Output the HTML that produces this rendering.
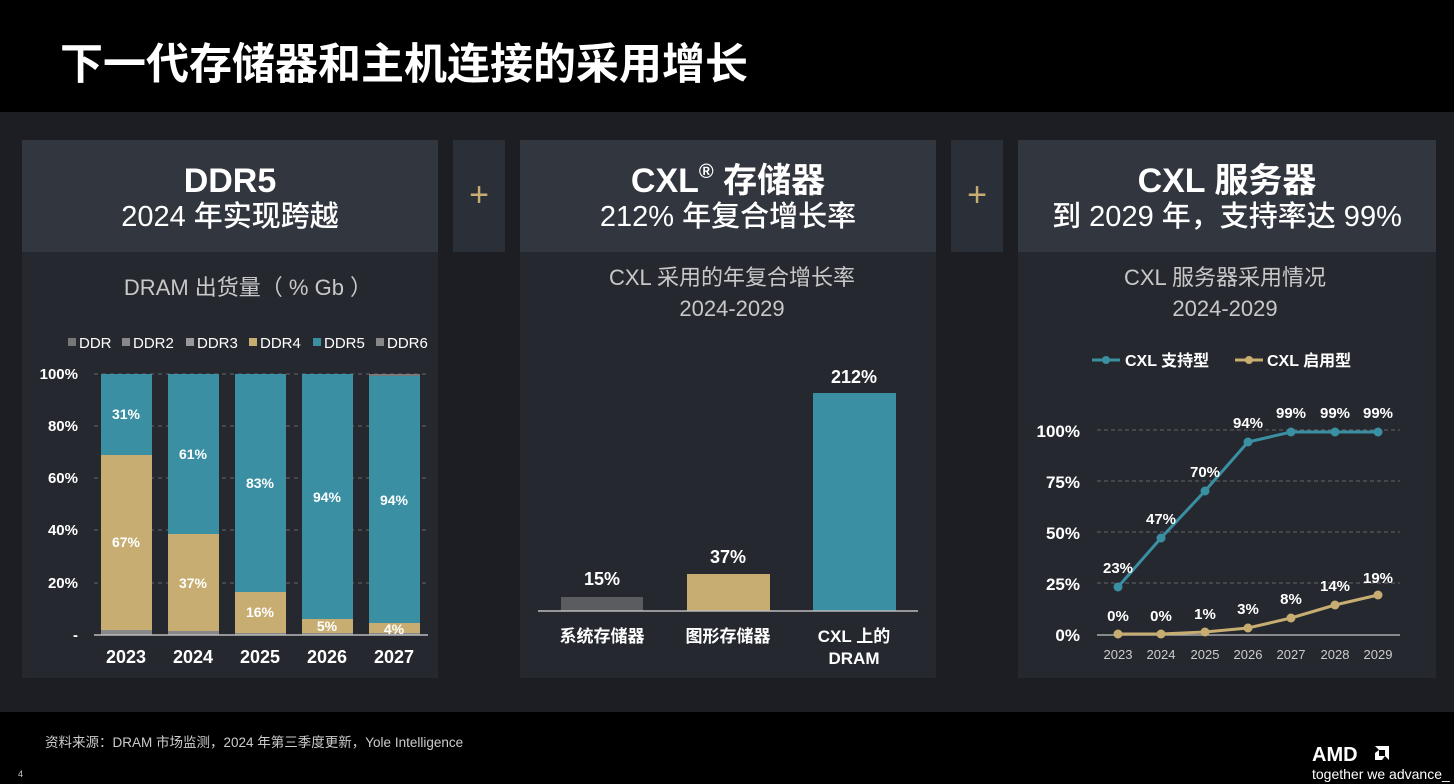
<!DOCTYPE html>
<html><head><meta charset="utf-8"><style>
body{margin:0;width:1454px;height:784px;background:#000;overflow:hidden;font-family:"Liberation Sans","Noto Sans CJK SC",sans-serif;color:#fff;position:relative}
.a{position:absolute}
.band{left:0;top:112px;width:1454px;height:600px;background:#1c1e23}
.hd{background:#31363f;top:140px;height:112px;text-align:center}
.bd{background:#25282e;top:252px;height:426px}
.h1{font-weight:bold;font-size:34px;line-height:38px;margin-top:22px;height:38px}
.h1 sup{font-size:20px;line-height:0;vertical-align:14px}
.h2{font-size:29px;line-height:34px;font-weight:500}
.plus{background:#2b2f37;top:140px;height:112px;width:52px;color:#c8ad72;font-size:34px;text-align:center;line-height:110px}
</style></head><body>
<div class="a" style="left:60px;top:37px;font-size:43px;font-weight:bold;line-height:56px">下一代存储器和主机连接的采用增长</div>
<div class="a band"></div>
<div class="a hd" style="left:22px;width:416px"><div class="h1">DDR5</div><div class="h2">2024 年实现跨越</div></div>
<div class="a plus" style="left:453px">+</div>
<div class="a hd" style="left:520px;width:416px"><div class="h1">CXL<sup>®</sup> 存储器</div><div class="h2">212% 年复合增长率</div></div>
<div class="a plus" style="left:951px">+</div>
<div class="a hd" style="left:1018px;width:418px"><div class="h1">CXL 服务器</div><div class="h2">到 2029 年，支持率达 99%</div></div>
<div class="a bd" style="left:22px;width:416px"></div>
<div class="a bd" style="left:520px;width:416px"></div>
<div class="a bd" style="left:1018px;width:418px"></div>
<svg class="a" style="left:0;top:0" width="1454" height="784" font-family="Liberation Sans, Noto Sans CJK SC, sans-serif">
<g fill="#c8c8c8" font-size="22" text-anchor="middle">
<text x="248" y="295">DRAM 出货量（ % Gb ）</text>
<text x="732" y="285">CXL 采用的年复合增长率</text><text x="732" y="316">2024-2029</text>
<text x="1225" y="285">CXL 服务器采用情况</text><text x="1225" y="316">2024-2029</text>
</g>
<g font-size="15" fill="#fff">
<rect x="68" y="338" width="8" height="8" fill="#777"/><text x="79" y="348">DDR</text>
<rect x="122" y="338" width="8" height="8" fill="#888"/><text x="133" y="348">DDR2</text>
<rect x="186" y="338" width="8" height="8" fill="#999"/><text x="197" y="348">DDR3</text>
<rect x="249" y="338" width="8" height="8" fill="#c8ad72"/><text x="260" y="348">DDR4</text>
<rect x="313" y="338" width="8" height="8" fill="#3a8fa3"/><text x="324" y="348">DDR5</text>
<rect x="376" y="338" width="8" height="8" fill="#888"/><text x="387" y="348">DDR6</text>
</g>
<g stroke="#666" stroke-dasharray="4 4"><line x1="94" x2="428" y1="374" y2="374"/><line x1="94" x2="428" y1="426" y2="426"/><line x1="94" x2="428" y1="478" y2="478"/><line x1="94" x2="428" y1="530" y2="530"/><line x1="94" x2="428" y1="583" y2="583"/></g>
<g font-size="15" font-weight="bold" fill="#fff" text-anchor="end"><text x="78" y="379">100%</text><text x="78" y="431">80%</text><text x="78" y="483">60%</text><text x="78" y="535">40%</text><text x="78" y="588">20%</text><text x="78" y="640">-</text></g>
<g fill="#3a8fa3"><rect x="101" y="374" width="51" height="261"/><rect x="168" y="374" width="51" height="261"/><rect x="235" y="374" width="51" height="261"/><rect x="302" y="374" width="51" height="261"/><rect x="369" y="376" width="51" height="259"/></g>
<rect x="369" y="374" width="51" height="2" fill="#777"/>
<g fill="#c8ad72"><rect x="101" y="455" width="51" height="175"/><rect x="168" y="534" width="51" height="97"/><rect x="235" y="592" width="51" height="41"/><rect x="302" y="619" width="51" height="14"/><rect x="369" y="623" width="51" height="10"/></g>
<g fill="#888"><rect x="101" y="630" width="51" height="5"/><rect x="168" y="631" width="51" height="4"/><rect x="235" y="633" width="51" height="2"/><rect x="302" y="633" width="51" height="2"/><rect x="369" y="633" width="51" height="2"/></g>
<line x1="94" x2="428" y1="635" y2="635" stroke="#bbb" stroke-width="1.5"/>
<g font-size="14" font-weight="bold" fill="#fff" text-anchor="middle">
<text x="126" y="419">31%</text><text x="126" y="547">67%</text>
<text x="193" y="459">61%</text><text x="193" y="588">37%</text>
<text x="260" y="488">83%</text><text x="260" y="617">16%</text>
<text x="327" y="502">94%</text><text x="327" y="631">5%</text>
<text x="394" y="505">94%</text><text x="394" y="634">4%</text>
</g>
<g font-size="18" font-weight="bold" fill="#fff" text-anchor="middle"><text x="126" y="663">2023</text><text x="193" y="663">2024</text><text x="260" y="663">2025</text><text x="327" y="663">2026</text><text x="394" y="663">2027</text></g>
<rect x="561" y="597" width="82" height="14" fill="#5a5c60"/>
<rect x="687" y="574" width="83" height="37" fill="#c8ad72"/>
<rect x="813" y="393" width="83" height="218" fill="#3a8fa3"/>
<line x1="538" x2="918" y1="611" y2="611" stroke="#bbb" stroke-width="1.5"/>
<g font-size="18" font-weight="bold" fill="#fff" text-anchor="middle"><text x="602" y="585">15%</text><text x="728" y="563">37%</text><text x="854" y="383">212%</text></g>
<g font-size="17" font-weight="bold" fill="#fff" text-anchor="middle"><text x="602" y="642">系统存储器</text><text x="728" y="642">图形存储器</text><text x="854" y="642">CXL 上的</text><text x="854" y="664">DRAM</text></g>
<line x1="1092" x2="1120" y1="360" y2="360" stroke="#3a8fa3" stroke-width="3"/><circle cx="1106" cy="360" r="4" fill="#3a8fa3"/>
<text x="1125" y="366" font-size="16" font-weight="bold" fill="#fff">CXL 支持型</text>
<line x1="1235" x2="1263" y1="360" y2="360" stroke="#c8ad72" stroke-width="3"/><circle cx="1249" cy="360" r="4" fill="#c8ad72"/>
<text x="1267" y="366" font-size="16" font-weight="bold" fill="#fff">CXL 启用型</text>
<g stroke="#666" stroke-dasharray="4 3"><line x1="1097" x2="1400" y1="430" y2="430"/><line x1="1097" x2="1400" y1="481" y2="481"/><line x1="1097" x2="1400" y1="532" y2="532"/><line x1="1097" x2="1400" y1="583" y2="583"/></g>
<line x1="1097" x2="1400" y1="635" y2="635" stroke="#aaa" stroke-width="1.5"/>
<g font-size="17" font-weight="bold" fill="#fff" text-anchor="end"><text x="1080" y="437">100%</text><text x="1080" y="488">75%</text><text x="1080" y="539">50%</text><text x="1080" y="590">25%</text><text x="1080" y="641">0%</text></g>
<polyline points="1118,587 1161,538 1205,491 1248,442 1291,432 1335,432 1378,432" fill="none" stroke="#3a8fa3" stroke-width="3"/>
<polyline points="1118,634 1161,634 1205,632 1248,628 1291,618 1335,605 1378,595" fill="none" stroke="#c8ad72" stroke-width="3"/>
<g fill="#3a8fa3"><circle cx="1118" cy="587" r="4.5"/><circle cx="1161" cy="538" r="4.5"/><circle cx="1205" cy="491" r="4.5"/><circle cx="1248" cy="442" r="4.5"/><circle cx="1291" cy="432" r="4.5"/><circle cx="1335" cy="432" r="4.5"/><circle cx="1378" cy="432" r="4.5"/></g>
<g fill="#c8ad72"><circle cx="1118" cy="634" r="4.5"/><circle cx="1161" cy="634" r="4.5"/><circle cx="1205" cy="632" r="4.5"/><circle cx="1248" cy="628" r="4.5"/><circle cx="1291" cy="618" r="4.5"/><circle cx="1335" cy="605" r="4.5"/><circle cx="1378" cy="595" r="4.5"/></g>
<g font-size="15" font-weight="bold" fill="#fff" text-anchor="middle">
<text x="1118" y="573">23%</text><text x="1161" y="524">47%</text><text x="1205" y="477">70%</text><text x="1248" y="428">94%</text><text x="1291" y="418">99%</text><text x="1335" y="418">99%</text><text x="1378" y="418">99%</text>
<text x="1118" y="621">0%</text><text x="1161" y="621">0%</text><text x="1205" y="619">1%</text><text x="1248" y="614">3%</text><text x="1291" y="604">8%</text><text x="1335" y="591">14%</text><text x="1378" y="583">19%</text>
</g>
<g font-size="13" fill="#ccc" text-anchor="middle"><text x="1118" y="659">2023</text><text x="1161" y="659">2024</text><text x="1205" y="659">2025</text><text x="1248" y="659">2026</text><text x="1291" y="659">2027</text><text x="1335" y="659">2028</text><text x="1378" y="659">2029</text></g>
<text x="45" y="747" font-size="13.5" fill="#ccc">资料来源：DRAM 市场监测，2024 年第三季度更新，Yole Intelligence</text>
<text x="18" y="777" font-size="9" fill="#ccc">4</text>
<text x="1312" y="761" font-size="20" font-weight="bold" fill="#fff">AMD</text>
<path d="M1375 746h14v14l-4-4v-6h-6z M1375 753l4-3v6h6l-3 4h-7z" fill="#fff"/>
<text x="1312" y="779" font-size="14" fill="#fff">together we advance_</text>
</svg>
</body></html>
